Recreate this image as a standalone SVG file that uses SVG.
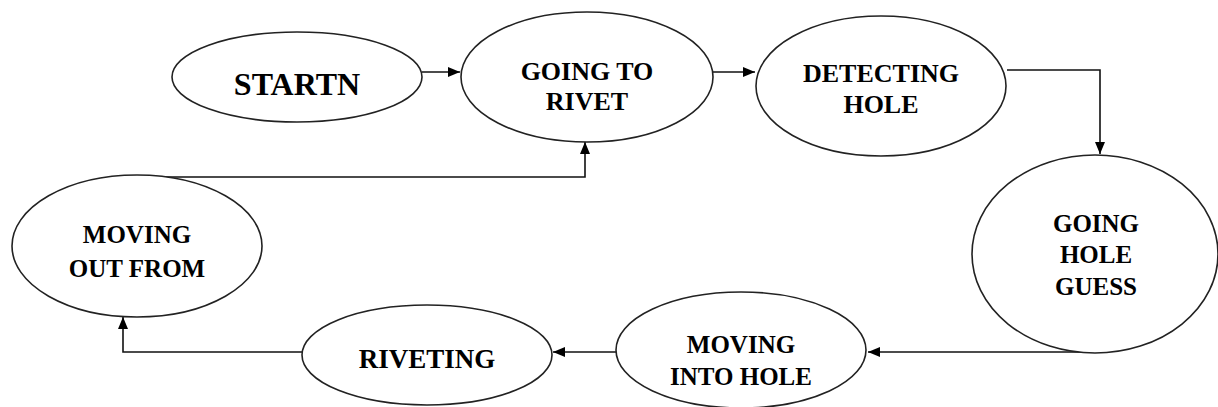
<svg xmlns="http://www.w3.org/2000/svg" width="1218" height="407" viewBox="0 0 1218 407">
<style>
.n{fill:#fff;stroke:#222;stroke-width:1.6}
.t{font-family:"Liberation Serif","Times New Roman",serif;font-weight:bold;fill:#000;text-anchor:middle}
.c{fill:none;stroke:#111;stroke-width:1.6}
</style>
<defs>
<marker id="a" markerWidth="12" markerHeight="10" refX="12" refY="5" orient="auto" markerUnits="userSpaceOnUse">
<path d="M0,0 L12,5 L0,10 Z" fill="#000"/>
</marker>
</defs>
<rect width="1218" height="407" fill="#fff"/>
<g id="connectors">
<path class="c" d="M422,72 H460" marker-end="url(#a)"/>
<path class="c" d="M713,72 H755" marker-end="url(#a)"/>
<path class="c" d="M1007,70 H1100 V154" marker-end="url(#a)"/>
<path class="c" d="M1095,352 H868" marker-end="url(#a)"/>
<path class="c" d="M616,352 H553" marker-end="url(#a)"/>
<path class="c" d="M302,352 H123 V317" marker-end="url(#a)"/>
<path class="c" d="M130,177 H585 V142" marker-end="url(#a)"/>
</g>
<g id="startn">
<ellipse class="n" cx="297" cy="77" rx="125" ry="45"/>
<text class="t" x="297" y="95" font-size="32">STARTN</text>
</g>
<g id="going-to-rivet">
<ellipse class="n" cx="587" cy="77" rx="126" ry="65"/>
<text class="t" x="587" y="80" font-size="26">GOING  TO</text>
<text class="t" x="587" y="110" font-size="26">RIVET</text>
</g>
<g id="detecting-hole">
<ellipse class="n" cx="881" cy="86" rx="125" ry="70"/>
<text class="t" x="881" y="82" font-size="26">DETECTING</text>
<text class="t" x="881" y="113" font-size="26">HOLE</text>
</g>
<g id="going-hole-guess">
<ellipse class="n" cx="1095" cy="254" rx="123" ry="99"/>
<text class="t" x="1096" y="232" font-size="25">GOING</text>
<text class="t" x="1096" y="263" font-size="25">HOLE</text>
<text class="t" x="1096" y="295" font-size="25">GUESS</text>
</g>
<g id="moving-into-hole">
<ellipse class="n" cx="741" cy="350" rx="125" ry="58"/>
<text class="t" x="741" y="353" font-size="25">MOVING</text>
<text class="t" x="741" y="385" font-size="25">INTO HOLE</text>
</g>
<g id="riveting">
<ellipse class="n" cx="427" cy="355" rx="125" ry="50"/>
<text class="t" x="427" y="368" font-size="27">RIVETING</text>
</g>
<g id="moving-out-from">
<ellipse class="n" cx="137" cy="246" rx="125" ry="71"/>
<text class="t" x="137" y="243" font-size="25">MOVING</text>
<text class="t" x="137" y="277" font-size="25">OUT FROM</text>
</g>
</svg>
